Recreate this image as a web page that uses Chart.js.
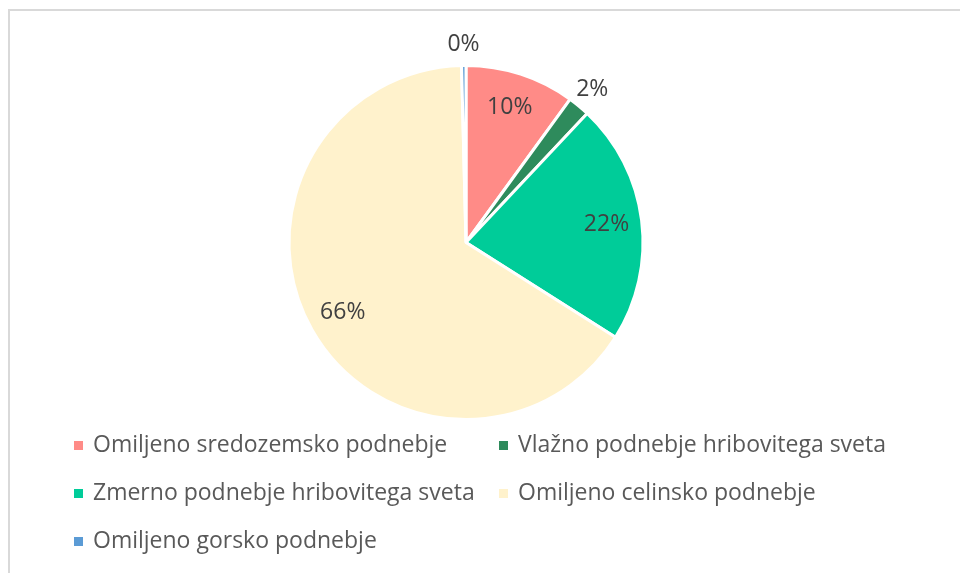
<!DOCTYPE html>
<html>
<head>
<meta charset="utf-8">
<script src="https://cdn.jsdelivr.net/npm/chart.js@4.4.0/dist/chart.umd.min.js"></script>
<style>
  html, body { margin: 0; padding: 0; background: #fff; overflow: hidden; }
  #frame { position: absolute; left: 8px; top: 9px; width: 1200px; height: 800px; border: 2px solid #d9d9d9; }
  #wrap { position: absolute; left: 0; top: 0; width: 960px; height: 573px; }
</style>
</head>
<body>
<div id="frame"></div>
<div id="wrap"><canvas id="pieChart" width="960" height="573"></canvas></div>
<script>
const categories = [
  'Omiljeno sredozemsko podnebje',
  'Vlažno podnebje hribovitega sveta',
  'Zmerno podnebje hribovitega sveta',
  'Omiljeno celinsko podnebje',
  'Omiljeno gorsko podnebje'
];
const shares = [10, 2, 22, 65.6, 0.4];
const sliceColors = ['#FF8B87', '#2E8B5C', '#00CC99', '#FFF2CC', '#5B9BD5'];

const FONT = '23px "Open Sans", "Liberation Sans", sans-serif';

// percent labels: inside big slices, just outside small ones
const pctLabels = {
  id: 'pctLabels',
  afterDatasetsDraw(chart) {
    const ctx = chart.ctx;
    const total = shares.reduce((a, b) => a + b, 0);
    const arcs = chart.getDatasetMeta(0).data;
    ctx.save();
    ctx.font = FONT;
    ctx.fillStyle = '#404040';
    ctx.textAlign = 'center';
    ctx.textBaseline = 'middle';
    arcs.forEach((arc, i) => {
      const p = arc.getProps(['x', 'y', 'startAngle', 'endAngle', 'outerRadius'], true);
      const mid = (p.startAngle + p.endAngle) / 2;
      const pct = shares[i] / total * 100;
      const r = pct < 5 ? p.outerRadius + 21 : p.outerRadius * 0.8;
      ctx.fillText(Math.round(pct) + '%', p.x + Math.cos(mid) * r, p.y + Math.sin(mid) * r);
    });
    ctx.restore();
  }
};

// two-column legend under the pie
const gridLegend = {
  id: 'gridLegend',
  afterDraw(chart) {
    const ctx = chart.ctx;
    const colX = [74, 499];
    const rowY = [445, 493, 541];
    ctx.save();
    ctx.font = FONT;
    ctx.textBaseline = 'middle';
    categories.forEach((name, i) => {
      const x = colX[i % 2];
      const y = rowY[Math.floor(i / 2)];
      ctx.fillStyle = sliceColors[i];
      ctx.fillRect(x, y - 4, 9, 9);
      ctx.fillStyle = '#595959';
      ctx.fillText(name, x + 19, y);
    });
    ctx.restore();
  }
};

new Chart(document.getElementById('pieChart').getContext('2d'), {
  type: 'pie',
  data: {
    labels: categories,
    datasets: [{
      data: shares,
      backgroundColor: sliceColors,
      borderColor: '#ffffff',
      borderWidth: 3
    }]
  },
  options: {
    responsive: false,
    animation: false,
    layout: { padding: { top: 64, bottom: 152, left: 0, right: 28 } },
    plugins: {
      legend: { display: false },
      tooltip: { enabled: false }
    }
  },
  plugins: [pctLabels, gridLegend]
});
</script>
</body>
</html>
